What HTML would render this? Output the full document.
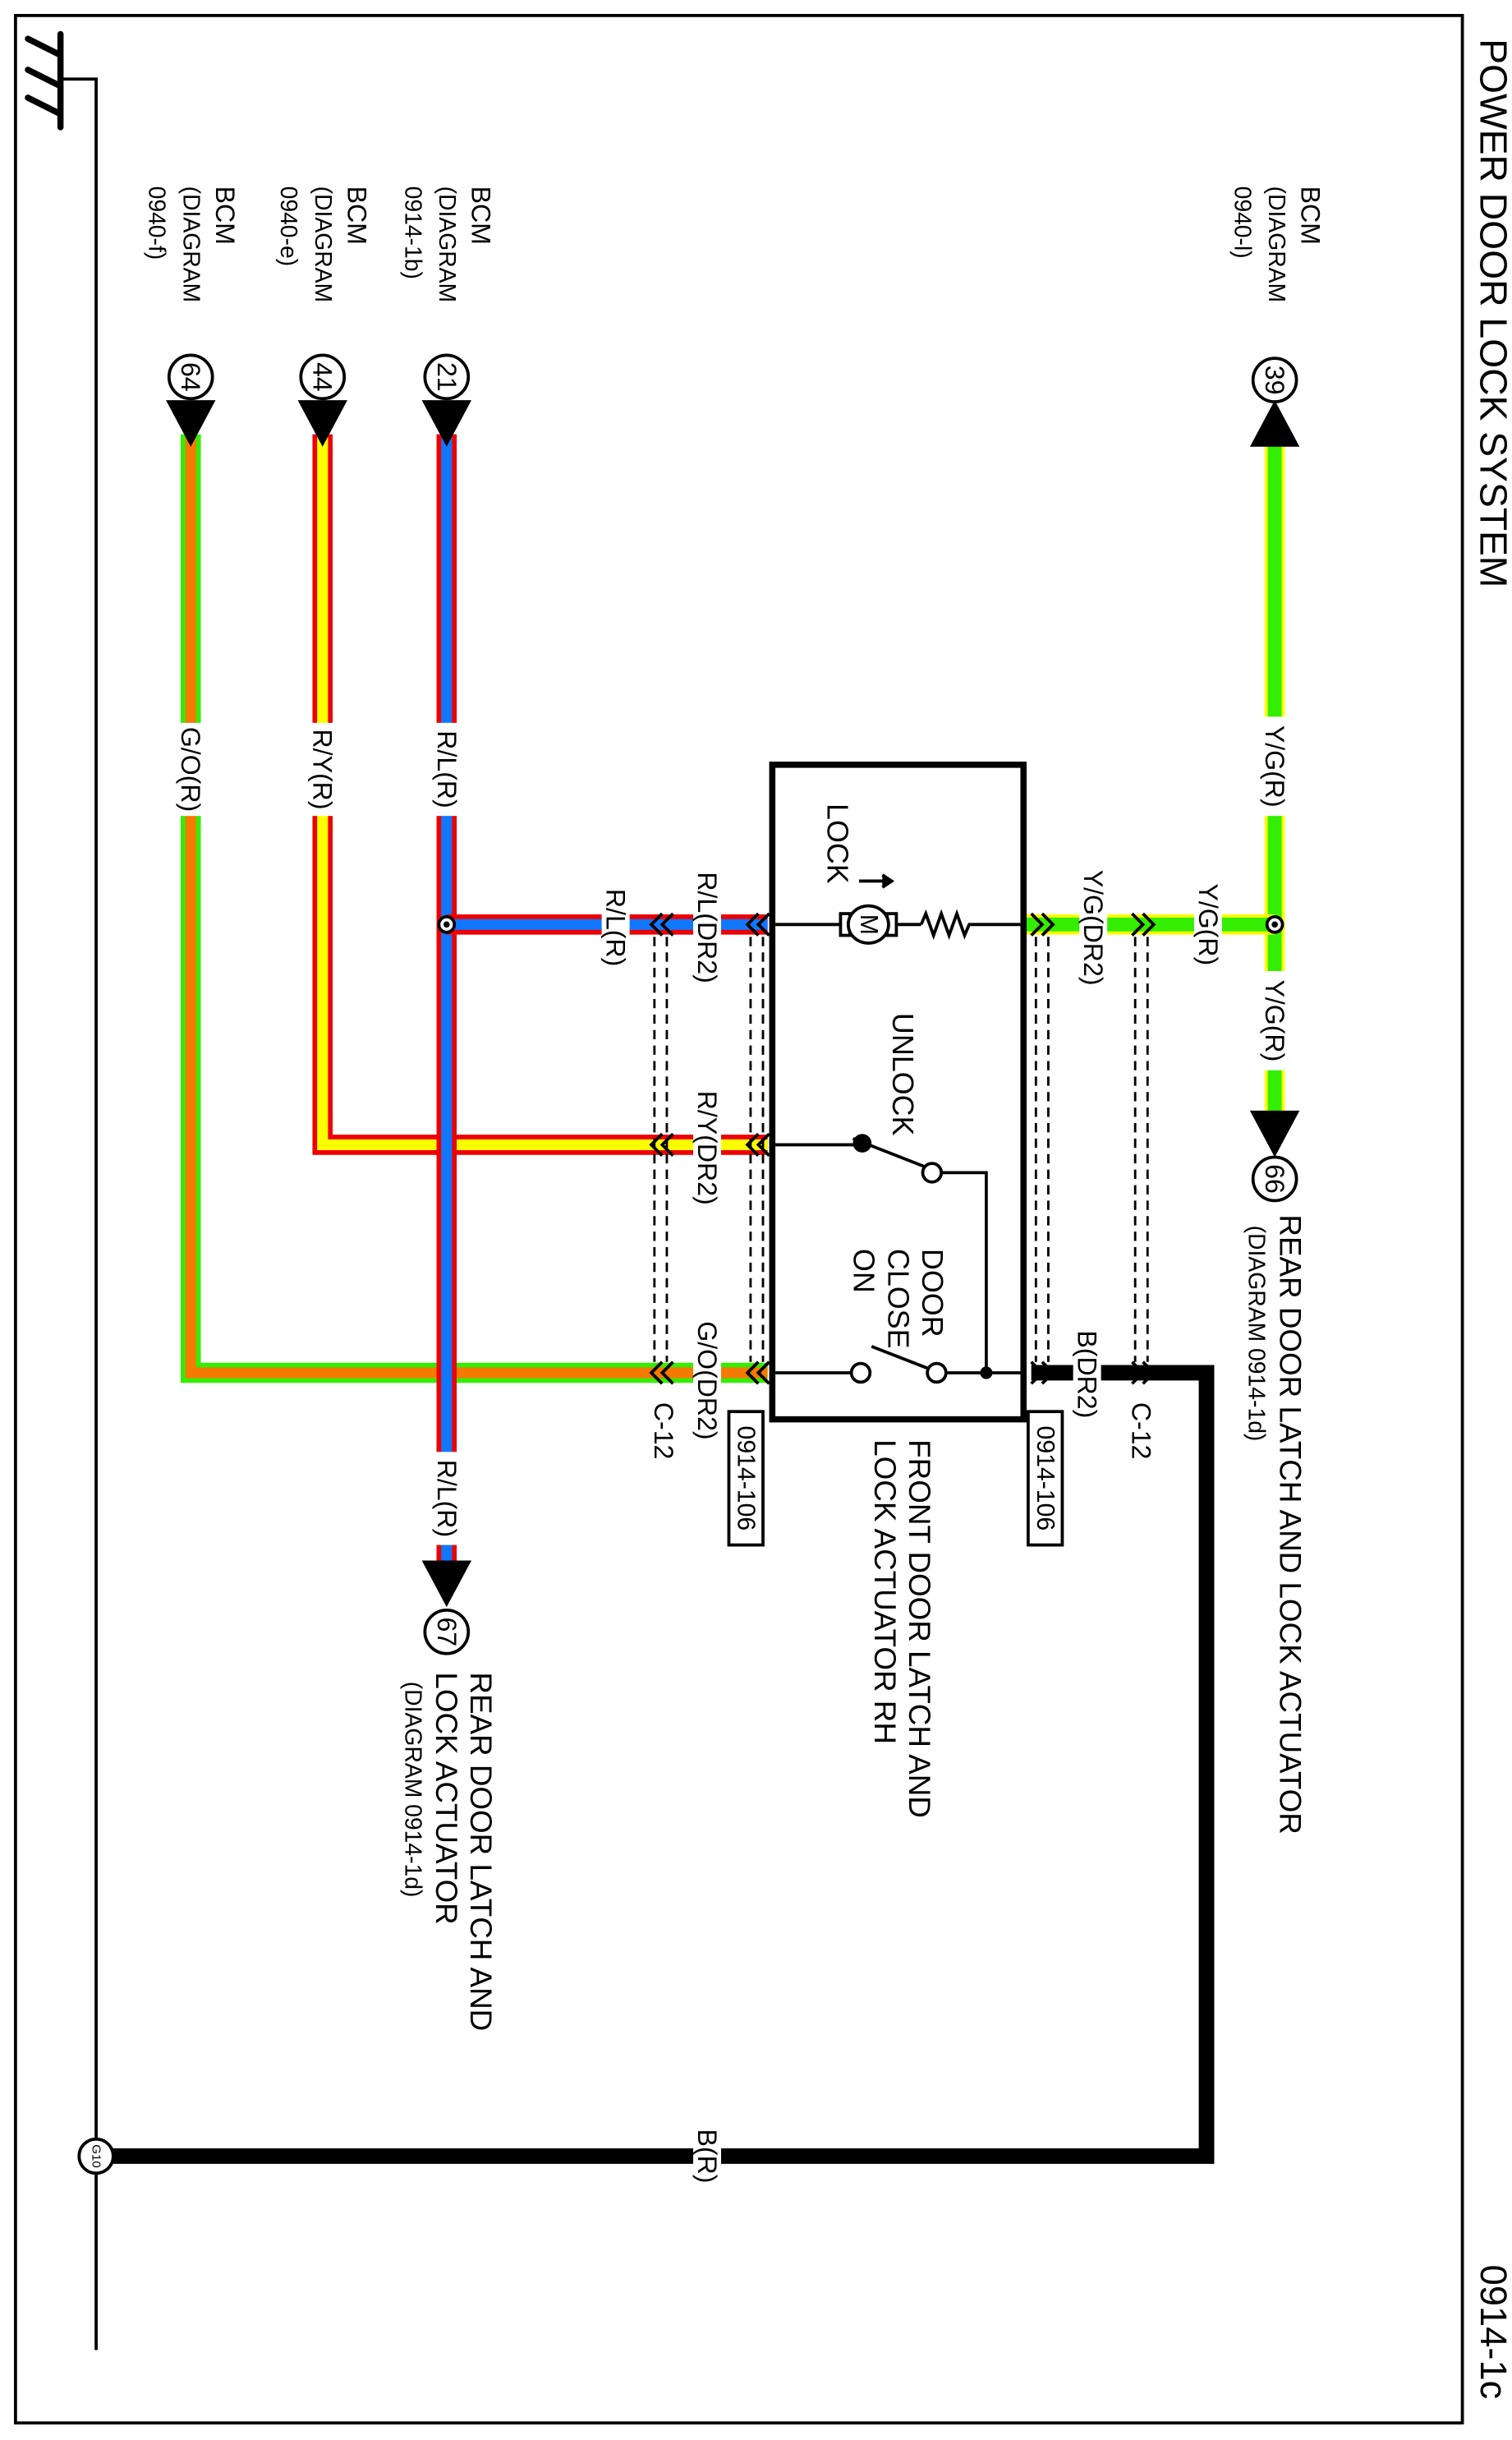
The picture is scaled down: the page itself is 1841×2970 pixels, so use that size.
<!DOCTYPE html>
<html><head><meta charset="utf-8"><style>
html,body{margin:0;padding:0;background:#fff;}
svg{display:block;}
text{font-family:"Liberation Sans",Arial,sans-serif;fill:#000;}
</style></head><body>
<svg width="1841" height="2970" viewBox="0 0 975 1573" preserveAspectRatio="none" xmlns="http://www.w3.org/2000/svg">
<rect x="0" y="0" width="975" height="1573" fill="#fff"/>
<rect x="10" y="10" width="933" height="1552" fill="none" stroke="#000" stroke-width="2"/>

<text transform="translate(963,25) rotate(90)" font-size="24.5" dominant-baseline="central">POWER DOOR LOCK SYSTEM</text>
<text transform="translate(963,1460) rotate(90)" font-size="24" dominant-baseline="central">0914-1c</text>

<g stroke="#000" stroke-linecap="round" fill="none">
<line x1="39" y1="22" x2="39" y2="82" stroke-width="4"/>
<line x1="18" y1="25" x2="38" y2="35" stroke-width="4"/>
<line x1="18" y1="45" x2="38" y2="55" stroke-width="4"/>
<line x1="18" y1="63" x2="38" y2="73" stroke-width="4"/>
<polyline points="40,51 62,51 62,1515" stroke-width="2" stroke-linecap="butt"/>
</g>

<polyline points="665,885 778,885 778,1390 62,1390" fill="none" stroke="#000" stroke-width="10"/>
<rect x="447" y="1368" width="18" height="44" fill="#fff"/>
<text transform="translate(456,1390) rotate(90)" font-size="17" text-anchor="middle" dominant-baseline="central">B(R)</text>
<circle cx="62" cy="1390" r="11" fill="#fff" stroke="#000" stroke-width="2"/>
<text transform="translate(62,1390) rotate(90)" font-size="8" text-anchor="middle" dominant-baseline="central">G10</text>

<polyline points="123,280 123,885 495,885" fill="none" stroke="#33ee00" stroke-width="13"/>
<polyline points="123,280 123,885 495,885" fill="none" stroke="#f47a00" stroke-width="7"/>
<polyline points="208,280 208,738 495,738" fill="none" stroke="#ee0000" stroke-width="13"/>
<polyline points="208,280 208,738 495,738" fill="none" stroke="#ffff00" stroke-width="7"/>
<line x1="288" y1="280" x2="288" y2="1008" stroke="#ee0000" stroke-width="13"/>
<line x1="288" y1="280" x2="288" y2="1008" stroke="#1177ff" stroke-width="7"/>
<line x1="288" y1="596" x2="495" y2="596" stroke="#ee0000" stroke-width="13"/>
<line x1="288" y1="596" x2="495" y2="596" stroke="#1177ff" stroke-width="7"/>
<circle cx="288" cy="596" r="5" fill="#fff" stroke="#000" stroke-width="2"/>
<circle cx="288" cy="596" r="2" fill="#000"/>
<line x1="822" y1="285" x2="822" y2="718" stroke="#ffff00" stroke-width="13"/>
<line x1="822" y1="285" x2="822" y2="718" stroke="#33ee00" stroke-width="9"/>
<line x1="662" y1="596" x2="822" y2="596" stroke="#ffff00" stroke-width="13"/>
<line x1="662" y1="596" x2="822" y2="596" stroke="#33ee00" stroke-width="9"/>
<circle cx="822" cy="596" r="5" fill="#fff" stroke="#000" stroke-width="2"/>
<circle cx="822" cy="596" r="2" fill="#000"/>

<g font-size="17">
<rect x="114" y="466" width="18" height="60" fill="#fff"/>
<text transform="translate(123,496) rotate(90)" text-anchor="middle" dominant-baseline="central">G/O(R)</text>
<rect x="199" y="466" width="18" height="60" fill="#fff"/>
<text transform="translate(208,496) rotate(90)" text-anchor="middle" dominant-baseline="central">R/Y(R)</text>
<rect x="279" y="466" width="18" height="60" fill="#fff"/>
<text transform="translate(288,496) rotate(90)" text-anchor="middle" dominant-baseline="central">R/L(R)</text>
<rect x="279" y="936" width="18" height="60" fill="#fff"/>
<text transform="translate(288,966) rotate(90)" text-anchor="middle" dominant-baseline="central">R/L(R)</text>
<rect x="813" y="462" width="18" height="64" fill="#fff"/>
<text transform="translate(822,494) rotate(90)" text-anchor="middle" dominant-baseline="central">Y/G(R)</text>
<rect x="813" y="626" width="18" height="64" fill="#fff"/>
<text transform="translate(822,658) rotate(90)" text-anchor="middle" dominant-baseline="central">Y/G(R)</text>

<rect x="447" y="556" width="18" height="84" fill="#fff"/>
<text transform="translate(456,598) rotate(90)" text-anchor="middle" dominant-baseline="central">R/L(DR2)</text>
<rect x="388" y="568" width="18" height="60" fill="#fff"/>
<text transform="translate(397,598) rotate(90)" text-anchor="middle" dominant-baseline="central">R/L(R)</text>
<rect x="447" y="698" width="18" height="84" fill="#fff"/>
<text transform="translate(456,740) rotate(90)" text-anchor="middle" dominant-baseline="central">R/Y(DR2)</text>
<rect x="447" y="842" width="18" height="96" fill="#fff"/>
<text transform="translate(456,890) rotate(90)" text-anchor="middle" dominant-baseline="central">G/O(DR2)</text>
<rect x="696" y="551" width="18" height="92" fill="#fff"/>
<text transform="translate(705,598) rotate(90)" text-anchor="middle" dominant-baseline="central">Y/G(DR2)</text>
<rect x="770" y="564" width="18" height="64" fill="#fff"/>
<text transform="translate(779,596) rotate(90)" text-anchor="middle" dominant-baseline="central">Y/G(R)</text>
<rect x="692" y="851" width="18" height="70" fill="#fff"/>
<text transform="translate(701,886) rotate(90)" text-anchor="middle" dominant-baseline="central">B(DR2)</text>
<text transform="translate(428,904) rotate(90)" dominant-baseline="central">C-12</text>
<text transform="translate(736,904) rotate(90)" dominant-baseline="central">C-12</text>
</g>

<g stroke="#000" stroke-width="1.5" stroke-dasharray="6,4" fill="none">
<line x1="422" y1="604" x2="422" y2="878"/><line x1="430" y1="604" x2="430" y2="878"/>
<line x1="484" y1="604" x2="484" y2="878"/><line x1="492" y1="604" x2="492" y2="878"/>
<line x1="668" y1="604" x2="668" y2="878"/><line x1="676" y1="604" x2="676" y2="878"/>
<line x1="732" y1="604" x2="732" y2="878"/><line x1="740" y1="604" x2="740" y2="878"/>
</g>
<g stroke="#000" stroke-width="2" fill="none">
<polyline points="427,589 420,596 427,603"/><polyline points="434,589 427,596 434,603"/>
<polyline points="489,589 482,596 489,603"/><polyline points="496,589 489,596 496,603"/>
<polyline points="427,731 420,738 427,745"/><polyline points="434,731 427,738 434,745"/>
<polyline points="489,731 482,738 489,745"/><polyline points="496,731 489,738 496,745"/>
<polyline points="427,878 420,885 427,892"/><polyline points="434,878 427,885 434,892"/>
<polyline points="489,878 482,885 489,892"/><polyline points="496,878 489,885 496,892"/>
<polyline points="665,589 672,596 665,603"/><polyline points="672,589 679,596 672,603"/>
<polyline points="730,589 737,596 730,603"/><polyline points="737,589 744,596 737,603"/>
<polyline points="665,878 672,885 665,892"/><polyline points="672,878 679,885 672,892"/>
<polyline points="730,878 737,885 730,892"/><polyline points="737,878 744,885 737,892"/>
</g>

<rect x="498" y="493" width="162" height="422" fill="#fff" stroke="#000" stroke-width="4"/>
<g stroke="#000" stroke-width="2" fill="none">
<line x1="500" y1="596" x2="545" y2="596"/>
<rect x="542" y="589" width="6" height="14" fill="#fff"/>
<rect x="572" y="589" width="6" height="14" fill="#fff"/>
<ellipse cx="560" cy="596" rx="13" ry="12" fill="#fff"/>
<line x1="578" y1="596" x2="594" y2="596"/>
<polyline points="594,596 597,589 602,603 607,589 612,603 617,589 622,603 625,596 658,596"/>
<line x1="554" y1="568" x2="574" y2="568"/>
<polyline points="569,564 575,568 569,572" fill="#000"/>
<line x1="500" y1="738" x2="555" y2="738"/>
<line x1="550" y1="734" x2="596" y2="752"/>
<circle cx="601" cy="756" r="6" fill="#fff"/>
<polyline points="607,756 636,756 636,885"/>
<line x1="500" y1="885" x2="549" y2="885"/>
<circle cx="555" cy="885" r="6" fill="#fff"/>
<line x1="562" y1="868" x2="598" y2="882"/>
<circle cx="604" cy="885" r="6" fill="#fff"/>
<line x1="610" y1="885" x2="662" y2="885"/>
</g>
<circle cx="556" cy="737" r="6" fill="#000"/>
<circle cx="636" cy="885" r="4" fill="#000"/>
<text transform="translate(560,596) rotate(90)" font-size="16" text-anchor="middle" dominant-baseline="central">M</text>
<g font-size="19">
<text transform="translate(540,518) rotate(90)" dominant-baseline="central">LOCK</text>
<text transform="translate(582,653) rotate(90)" dominant-baseline="central">UNLOCK</text>
<text transform="translate(601,805) rotate(90)" dominant-baseline="central">DOOR<tspan x="0" dy="22">CLOSE</tspan><tspan x="0" dy="22">ON</tspan></text>
<text transform="translate(593,928) rotate(90)" font-size="19.5" dominant-baseline="central">FRONT DOOR LATCH AND<tspan x="0" dy="22">LOCK ACTUATOR RH</tspan></text>
<text transform="translate(832,783) rotate(90)" font-size="19.5" dominant-baseline="central">REAR DOOR LATCH AND LOCK ACTUATOR</text>
<text transform="translate(310,1078) rotate(90)" font-size="19.5" dominant-baseline="central">REAR DOOR LATCH AND<tspan x="0" dy="22">LOCK ACTUATOR</tspan></text>
</g>
<g font-size="15">
<text transform="translate(810,790) rotate(90)" dominant-baseline="central">(DIAGRAM 0914-1d)</text>
<text transform="translate(266,1084) rotate(90)" dominant-baseline="central">(DIAGRAM 0914-1d)</text>
</g>

<rect x="470" y="910" width="22" height="86" fill="#fff" stroke="#000" stroke-width="2"/>
<text transform="translate(481,953) rotate(90)" font-size="16" text-anchor="middle" dominant-baseline="central">0914-106</text>
<rect x="663" y="910" width="22" height="86" fill="#fff" stroke="#000" stroke-width="2"/>
<text transform="translate(674,953) rotate(90)" font-size="16" text-anchor="middle" dominant-baseline="central">0914-106</text>

<g fill="#000">
<polygon points="107,258 139,258 123,288"/>
<polygon points="192,258 224,258 208,288"/>
<polygon points="272,258 304,258 288,288"/>
<polygon points="806,288 838,288 822,258"/>
<polygon points="806,716 838,716 822,746"/>
<polygon points="272,1006 304,1006 288,1036"/>
</g>
<g fill="#fff" stroke="#000" stroke-width="2">
<circle cx="123" cy="243" r="14"/><circle cx="208" cy="243" r="14"/><circle cx="288" cy="243" r="14"/>
<circle cx="822" cy="245" r="14"/><circle cx="822" cy="760" r="14"/><circle cx="288" cy="1052" r="14"/>
</g>
<g font-size="17">
<text transform="translate(123,243) rotate(90)" text-anchor="middle" dominant-baseline="central">64</text>
<text transform="translate(208,243) rotate(90)" text-anchor="middle" dominant-baseline="central">44</text>
<text transform="translate(288,243) rotate(90)" text-anchor="middle" dominant-baseline="central">21</text>
<text transform="translate(822,245) rotate(90)" text-anchor="middle" dominant-baseline="central">39</text>
<text transform="translate(822,760) rotate(90)" text-anchor="middle" dominant-baseline="central">66</text>
<text transform="translate(288,1052) rotate(90)" text-anchor="middle" dominant-baseline="central">67</text>
</g>

<g font-size="15">
<text transform="translate(145,120) rotate(90)" dominant-baseline="central"><tspan font-size="17">BCM</tspan><tspan x="0" dy="22">(DIAGRAM</tspan><tspan x="0" dy="22">0940-f)</tspan></text>
<text transform="translate(230,120) rotate(90)" dominant-baseline="central"><tspan font-size="17">BCM</tspan><tspan x="0" dy="22">(DIAGRAM</tspan><tspan x="0" dy="22">0940-e)</tspan></text>
<text transform="translate(310,120) rotate(90)" dominant-baseline="central"><tspan font-size="17">BCM</tspan><tspan x="0" dy="22">(DIAGRAM</tspan><tspan x="0" dy="22">0914-1b)</tspan></text>
<text transform="translate(845,120) rotate(90)" dominant-baseline="central"><tspan font-size="17">BCM</tspan><tspan x="0" dy="22">(DIAGRAM</tspan><tspan x="0" dy="22">0940-l)</tspan></text>
</g>
</svg>
</body></html>
